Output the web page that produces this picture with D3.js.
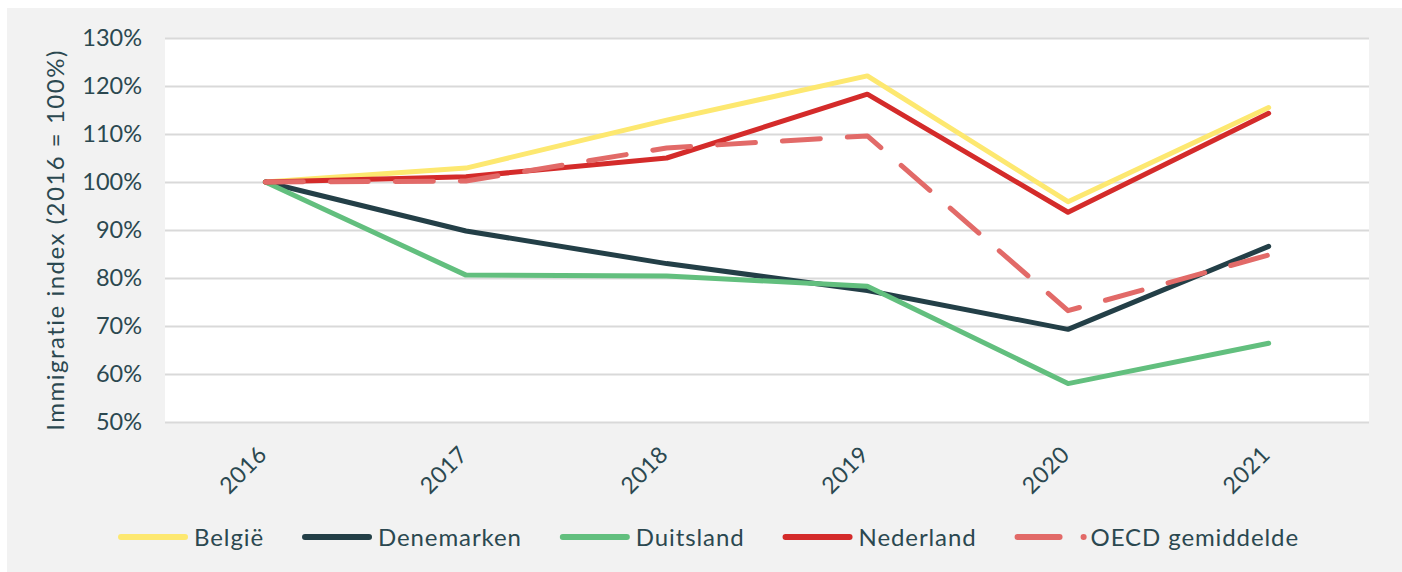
<!DOCTYPE html>
<html>
<head>
<meta charset="utf-8">
<script src="https://cdn.jsdelivr.net/npm/d3@7"></script>
<style>
  body { margin: 0; background: #fff; }
  text { font-family: Lato, "Noto Sans", sans-serif; fill: #2b4850; }
</style>
</head>
<body>
<script>
// chart data
var years = ["2016", "2017", "2018", "2019", "2020", "2021"];
var belgie = [100, 102.9, 112.9, 122.1, 95.9, 115.5];
var denemarken = [100, 89.8, 83.0, 77.4, 69.3, 86.6];
var duitsland = [100, 80.6, 80.4, 78.3, 58.0, 66.4];
var nederland = [100, 101.1, 105.0, 118.3, 93.7, 114.3];
var oecd = [100, 100.2, 107.1, 109.6, 73.2, 84.8];
var yTicks = [50, 60, 70, 80, 90, 100, 110, 120, 130];

var series = [
  { name: "België", values: belgie, color: "#fde870", dash: null, legendDash: null },
  { name: "Denemarken", values: denemarken, color: "#233f47", dash: null, legendDash: null },
  { name: "Duitsland", values: duitsland, color: "#62bf7e", dash: null, legendDash: null },
  { name: "Nederland", values: nederland, color: "#d42b2a", dash: null, legendDash: null },
  { name: "OECD gemiddelde", values: oecd, color: "#e26a68", dash: "38,27", legendDash: "42,24" }
];

var svgWidth = 1402;
var svgHeight = 572;

var plot = { left: 165, top: 38, right: 1369, bottom: 422 };

var svg = d3.select("body")
  .append("svg")
  .attr("width", svgWidth)
  .attr("height", svgHeight);

// grey backdrop
svg.append("rect")
  .attr("x", 7)
  .attr("y", 8)
  .attr("width", svgWidth - 7)
  .attr("height", svgHeight - 8)
  .attr("fill", "#f2f2f2");

svg.append("rect")
  .attr("x", plot.left)
  .attr("y", plot.top)
  .attr("width", plot.right - plot.left)
  .attr("height", plot.bottom - plot.top)
  .attr("fill", "#fff");

var xScale = d3.scaleBand()
  .domain(years)
  .range([plot.left, plot.right]);

var yScale = d3.scaleLinear()
  .domain([50, 130])
  .range([plot.bottom, plot.top]);

// gridlines + y labels
var leftAxis = d3.axisLeft(yScale)
  .tickValues(yTicks)
  .tickSize(-(plot.right - plot.left))
  .tickPadding(23)
  .tickFormat(d => d + "%");

var yAxis = svg.append("g")
  .attr("transform", `translate(${plot.left},0)`)
  .call(leftAxis);
yAxis.select(".domain").remove();
yAxis.selectAll("line")
  .attr("stroke", "#d9d9d9")
  .attr("stroke-width", 2);
yAxis.selectAll("text")
  .style("font-family", "Lato, 'Noto Sans', sans-serif")
  .style("font-size", "23.5px")
  .attr("fill", "#2b4850");

// x labels, rotated
var bottomAxis = d3.axisBottom(xScale).tickSize(0).tickPadding(0);
var xAxis = svg.append("g")
  .attr("transform", `translate(0,${plot.bottom})`)
  .call(bottomAxis);
xAxis.select(".domain").remove();
xAxis.selectAll("text")
  .style("font-family", "Lato, 'Noto Sans', sans-serif")
  .style("font-size", "23px")
  .style("letter-spacing", "0.5px")
  .attr("fill", "#2b4850")
  .attr("y", 0)
  .attr("dy", "0")
  .attr("text-anchor", "end")
  .attr("transform", "translate(3,34) rotate(-45)");

// axis title
svg.append("text")
  .attr("transform", `translate(64,${(plot.top + plot.bottom) / 2 + 10}) rotate(-90)`)
  .attr("text-anchor", "middle")
  .style("font-size", "24px")
  .style("letter-spacing", "1.5px")
  .text("Immigratie index (2016 = 100%)");

// lines
var line = d3.line()
  .x((d, i) => xScale(years[i]) + xScale.bandwidth() / 2)
  .y(d => yScale(d));

svg.selectAll(".series")
  .data(series)
  .enter()
  .append("path")
  .attr("class", "series")
  .attr("d", d => line(d.values))
  .attr("fill", "none")
  .attr("stroke", d => d.color)
  .attr("stroke-width", 5)
  .attr("stroke-linejoin", "round")
  .attr("stroke-linecap", "round")
  .attr("stroke-dasharray", d => d.dash);

// legend
var legend = svg.append("g");
var items = legend.selectAll(".item")
  .data(series)
  .enter()
  .append("g")
  .attr("class", "item");

items.append("line")
  .attr("x1", 3)
  .attr("x2", d => d.legendDash ? 69.1 : 67)
  .attr("y1", 0)
  .attr("y2", 0)
  .attr("stroke", d => d.color)
  .attr("stroke-width", 6)
  .attr("stroke-linecap", "round")
  .attr("stroke-dasharray", d => d.legendDash);

items.append("text")
  .attr("x", 76)
  .attr("y", 8.5)
  .style("font-size", "24px")
  .style("letter-spacing", "0.9px")
  .text(d => d.name);

var pos = 0;
var widths = [];
items.each(function() {
  widths.push(this.getBBox().width);
});
var gap = 41;
var total = d3.sum(widths) + gap * (widths.length - 1);
var start = 707 - total / 2;
items.attr("transform", function(d, i) {
  var x = start + pos;
  pos += widths[i] + gap;
  return `translate(${x},537)`;
});
</script>
</body>
</html>
